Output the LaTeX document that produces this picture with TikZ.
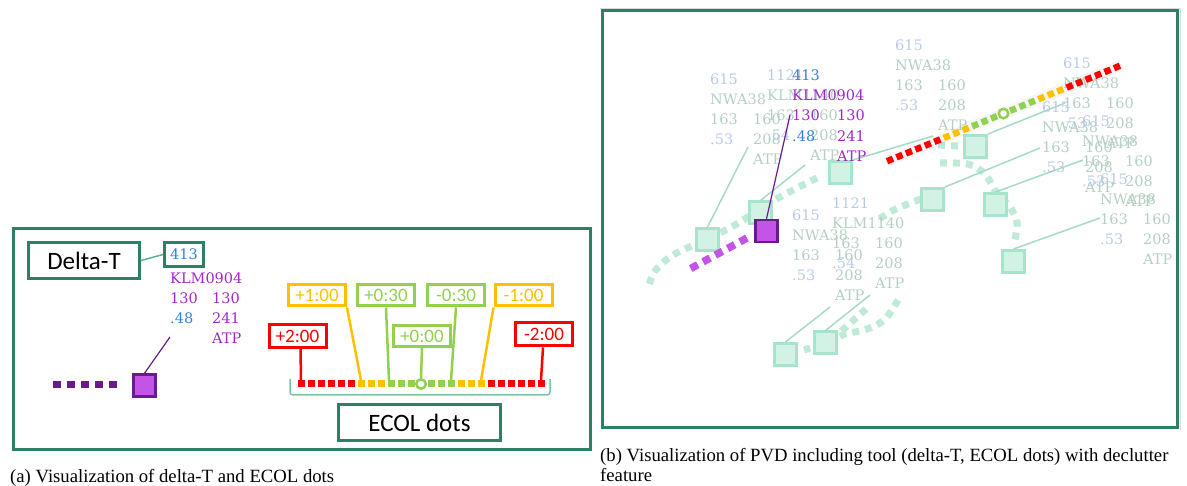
\documentclass[tikz,border=0pt]{standalone}
\usepackage{fontspec}
\setmainfont{Liberation Serif}
\newfontfamily\labelfont{Carlito}
\newfontfamily\datafont{DejaVu Serif}
\usetikzlibrary{calc}

\definecolor{framegreen}{RGB}{46,128,98}
\definecolor{ecred}{RGB}{255,0,0}
\definecolor{ecorange}{RGB}{255,192,0}
\definecolor{ecgreen}{RGB}{146,208,80}
\definecolor{acpurple}{RGB}{196,84,232}
\definecolor{acpurpledark}{RGB}{106,26,138}
\definecolor{txtpurple}{RGB}{160,40,200}
\definecolor{txtblue}{RGB}{50,130,220}
\definecolor{tealfill}{RGB}{210,242,229}
\definecolor{tealedge}{RGB}{166,228,204}
\definecolor{tealline}{RGB}{166,218,198}
\definecolor{trailteal}{RGB}{190,234,215}
\definecolor{bracketteal}{RGB}{124,196,166}
\definecolor{connteal}{RGB}{90,180,150}
\definecolor{fadeblue}{RGB}{186,202,230}
\definecolor{fadegreen}{RGB}{180,208,194}

% one row of ECOL dots: 25 places, the centre one a ring
\newcommand\ecolrow[5]{% #1 name prefix, #2 start, #3 end, #4 rotation, #5 dot size
  \foreach \i in {0,...,24}{%
    \ifnum\i=12
      \node[eccircle] (#1\i) at ($(#2)!\i/24!(#3)$) {};
    \else
      \pgfmathtruncatemacro\d{abs(\i-12)}%
      \ifnum\d>6 \def\c{ecred}\else\ifnum\d>3 \def\c{ecorange}\else\def\c{ecgreen}\fi\fi
      \node[ecdot=\c, minimum size=#5, rotate=#4] (#1\i) at ($(#2)!\i/24!(#3)$) {};
    \fi
  }}

% faded data block of a decluttered aircraft
\newcommand\fblock[6]{% #1 name, #2 x, #3 y, #4 first line, #5 call sign, #6 fourth line
  \node[data, text=fadeblue]  (#1a) at (#2,#3) {#4};
  \node[data, text=fadegreen] (#1b) at (#2,#3+20) {#5};
  \node[data, text=fadegreen] (#1c) at (#2,#3+40) {163};
  \node[data, text=fadeblue]  (#1d) at (#2,#3+60) {#6};
  \node[data, text=fadegreen] (#1e) at (#2+43,#3+40) {160};
  \node[data, text=fadegreen] (#1f) at (#2+43,#3+60) {208};
  \node[data, text=fadegreen] (#1g) at (#2+43,#3+80) {ATP};
}

\begin{document}
\begin{tikzpicture}[x=1pt,y=-1pt,
  frame/.style={draw=framegreen, line width=3pt},
  titlebox/.style={draw=framegreen, line width=3pt, fill=white, inner sep=0pt,
    font=\labelfont\fontsize{25}{25}\selectfont},
  valbox/.style={draw=framegreen, line width=3pt, fill=white, inner sep=0pt, text=txtblue,
    font=\datafont\fontsize{14.5}{14.5}\selectfont},
  ecbox/.style={draw=#1, text=#1, line width=3pt, fill=white, minimum width=57pt,
    minimum height=21pt, inner sep=0pt, font=\labelfont\fontsize{19}{19}\selectfont},
  stem/.style={draw=#1, line width=2.5pt},
  ecdot/.style={fill=#1, inner sep=0pt, outer sep=0pt},
  eccircle/.style={circle, draw=ecgreen, fill=white, line width=2.5pt, minimum size=9.5pt, inner sep=0pt},
  data/.style={anchor=west, inner sep=0pt, text height=10.5pt, text depth=0pt,
    font=\datafont\fontsize{14.5}{14.5}\selectfont},
  acsquare/.style={draw=tealedge, fill=tealfill, line width=3pt, minimum size=22pt, inner sep=0pt},
  selsquare/.style={draw=acpurpledark, fill=acpurple, line width=2.5pt, minimum size=22pt, inner sep=0pt},
  leader/.style={draw=tealline, line width=1.5pt},
  selleader/.style={draw=acpurpledark, line width=1.2pt},
  trail/.style={draw=trailteal, line width=7pt, dash pattern=on 7pt off 6pt},
  caption/.style={inner sep=0pt, font=\fontsize{18.7}{20}\selectfont}
]
\useasboundingbox (0,0) rectangle (1187,486);

%% ---------------- (a) delta-T and ECOL dots ----------------
\draw[frame] (13,229) rectangle (590,449);

\node[titlebox, minimum width=111pt, minimum height=36pt] (deltat) at (84,260.5) {Delta-T};
\node[valbox, minimum width=39pt, minimum height=24pt] (dtval) at (184,254.5) {413};
\draw[draw=connteal, line width=1.5pt] (deltat.east) -- (dtval.west);

\node[data, text=txtpurple] (aklm) at (170,278) {KLM0904};
\node[data, text=txtpurple] (aspd) at (170,298) {130};
\node[data, text=txtpurple] (aspt) at (212,298) {130};
\node[data, text=txtblue]   (amach) at (170,318) {.48};
\node[data, text=txtpurple] (aalt) at (212,318) {241};
\node[data, text=txtpurple] (atyp) at (212,338) {ATP};

\draw[draw=acpurpledark, line width=7pt, dash pattern=on 8pt off 6pt] (53,385) -- (117,385);
\node[selsquare] (asq) at (144.5,385.5) {};
\coordinate (alead) at (170,337);
\draw[selleader] (alead) -- (asq.north);

% ECOL dot row
\coordinate (ea) at (301,384);
\coordinate (eb) at (541,384);
\ecolrow{e}{ea}{eb}{0}{7pt}

\draw[draw=bracketteal, line width=1.5pt, rounded corners=3pt] (290,379) -- (290,395) -- (550,395) -- (550,379);
\node[titlebox, minimum width=162pt, minimum height=36pt] (ecol) at (419.5,422.5) {ECOL dots};

% time labels
\node[ecbox=ecred, minimum height=23pt]   (ltwop)  at (297.5,336)  {+2:00};
\node[ecbox=ecorange]                     (lonep)  at (317,295.5)  {+1:00};
\node[ecbox=ecgreen]                      (lhalfp) at (386,295.5)  {+0:30};
\node[ecbox=ecgreen, minimum height=21pt] (lzero)  at (422,336)    {+0:00};
\node[ecbox=ecgreen]                      (lhalfm) at (456,295.5)  {-0:30};
\node[ecbox=ecorange]                     (lonem)  at (523.5,295.5){-1:00};
\node[ecbox=ecred, minimum height=23pt]   (ltwom)  at (544,334.5)  {-2:00};

\draw[stem=ecred]    ($(ltwop.south)+(3,0)$) -- (e0.north);
\draw[stem=ecorange] (lonep.south east) -- (e6.north);
\draw[stem=ecgreen]  (lhalfp.south) -- ($(e9.north)+(-2,0)$);
\draw[stem=ecgreen]  (lzero.south) -- (e12.north);
\draw[stem=ecgreen]  (lhalfm.south) -- (e15.north);
\draw[stem=ecorange] (lonem.south west) -- (e18.north);
\draw[stem=ecred]    ($(ltwom.south)+(-1,0)$) -- (e24.north);

\node[caption, anchor=west] (capa) at (10,478) {(a) Visualization of delta-T and ECOL dots};

%% ---------------- (b) plan view with declutter ----------------
\draw[black!15, line width=0.8pt] (600,8.5) -- (1180.5,8.5) -- (1180.5,430);
\draw[frame] (602,11) rectangle (1177,428);

% history trails
\draw[trail] plot[smooth] coordinates {(817,178) (780,197) (735,225) (707,239) (673,255) (655,271) (648,288)};
\draw[trail] plot[smooth] coordinates {(940,163) (968,164) (985,174) (996,192) (1010,207) (1017,222) (1015,240)};
\draw[trail] plot[smooth] coordinates {(898,300) (887,317) (875,326) (860,331) (845,334) (825,343) (804,350)};
\draw[trail] (866,309) -- (838,334);
\draw[trail] plot[smooth] coordinates {(921,199) (896,209) (876,221)};
\draw[trail] (958,146) -- (936,145);

% aircraft symbols
\node[acsquare] (s1)  at (707.5,239.5) {};
\node[acsquare] (s2)  at (760.5,213)   {};
\node[acsquare] (s4)  at (840.5,172.5) {};
\node[acsquare] (s5)  at (975.5,146.5) {};
\node[acsquare] (s6)  at (932.5,199.5) {};
\node[acsquare] (s7)  at (995.5,204.5) {};
\node[acsquare] (s8)  at (1013.5,261.5){};
\node[acsquare] (s9)  at (785.5,354.5) {};
\node[acsquare] (s10) at (825.5,343)   {};

% leader line ends at the data blocks
\coordinate (t1) at (748,147);
\coordinate (t2) at (805,165);
\coordinate (t4) at (933,136);
\coordinate (t5) at (1065,103);
\coordinate (t6) at (1040,148);
\coordinate (t7) at (1083,160);
\coordinate (t8) at (1100,218);
\coordinate (t9) at (830,307);
\coordinate (t10) at (870,295);

\draw[leader] (s1.north) -- (t1);
\draw[leader] (s2.north) -- (t2);
\draw[leader] (s4.north east) -- (t4);
\draw[leader] (s5.north east) -- (t5);
\draw[leader] (s6.north east) -- (t6);
\draw[leader] (s7.north) -- (t7);
\draw[leader] (s8.north) -- (t8);
\draw[leader] (s9.north) -- (t9);
\draw[leader] (s10.north) -- (t10);

% decluttered data blocks
\fblock{fa}{710}{79}{615}{NWA38}{.53}
\fblock{fb}{767}{75}{1121}{KLM1140}{.54}
\fblock{fc}{895}{45}{615}{NWA38}{.53}
\fblock{fd}{1063}{63}{615}{NWA38}{.53}
\fblock{fe}{1042}{107}{615}{NWA38}{.53}
\fblock{ff}{1082}{121}{615}{NWA38}{.53}
\fblock{fg}{1100}{179}{615}{NWA38}{.53}
\fblock{fh}{792}{215}{615}{NWA38}{.53}
\fblock{fi}{832}{203}{1121}{KLM1140}{.54}

% selected aircraft
\draw[draw=acpurple, line width=7.5pt, dash pattern=on 8pt off 6pt] (747,238) -- (688,270);
\node[selsquare] (sp) at (766.5,231) {};
\coordinate (plead) at (790,115);
\draw[selleader] (plead) -- (sp.north);

\node[data, text=txtblue]   (pdt)   at (792,75)  {413};
\node[data, text=txtpurple] (pklm)  at (792,95)  {KLM0904};
\node[data, text=txtpurple] (pspd)  at (792,115) {130};
\node[data, text=txtpurple] (pspt)  at (837,115) {130};
\node[data, text=txtblue]   (pmach) at (792,136) {.48};
\node[data, text=txtpurple] (palt)  at (837,136) {241};
\node[data, text=txtpurple] (ptyp)  at (837,156) {ATP};

% ECOL dots along the route
\coordinate (pa) at (890,160);
\coordinate (pb) at (1117,67);
\draw[black, opacity=0.035, line width=11pt, line cap=round] (pa) -- (pb);
\ecolrow{p}{pa}{pb}{22.3}{6.5pt}

\node[caption, anchor=north west, align=left] (capb) at (600,448)
  {(b) Visualization of PVD including tool (delta-T, ECOL dots) with declutter\\feature};
\end{tikzpicture}
\end{document}
